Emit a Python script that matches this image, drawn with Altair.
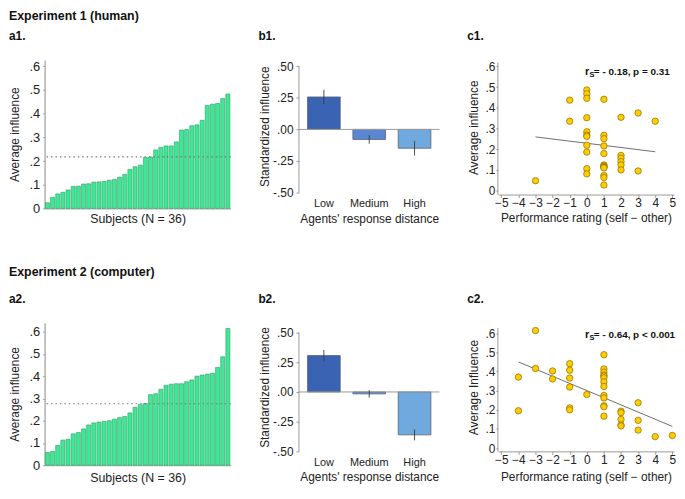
import altair as alt
import pandas as pd

# ---------------- data ----------------
a1_values = [0.024, 0.047, 0.061, 0.068, 0.078, 0.093, 0.094, 0.103, 0.104, 0.111,
             0.112, 0.114, 0.119, 0.122, 0.132, 0.144, 0.165, 0.176, 0.183, 0.215,
             0.217, 0.247, 0.258, 0.264, 0.264, 0.281, 0.331, 0.333, 0.349, 0.353,
             0.372, 0.435, 0.440, 0.443, 0.464, 0.483]
a1_mean = 0.218
a2_values = [0.057, 0.062, 0.089, 0.113, 0.116, 0.141, 0.147, 0.163, 0.181, 0.190,
             0.194, 0.197, 0.200, 0.207, 0.214, 0.219, 0.235, 0.260, 0.272, 0.277,
             0.317, 0.321, 0.341, 0.359, 0.364, 0.366, 0.366, 0.375, 0.383, 0.400,
             0.405, 0.409, 0.413, 0.439, 0.487, 0.614]
a2_mean = 0.276

b_categories = ["Low", "Medium", "High"]
b1_means = [0.257, -0.079, -0.149]
b1_errors = [0.057, 0.034, 0.058]
b2_means = [0.306, -0.016, -0.361]
b2_errors = [0.047, 0.032, 0.046]
b_colors = ["#3a63b3", "#5b86d1", "#70a9dd"]

c1_rating = [-3, -1, -1,
             0, 0, 0, 0, 0, 0, 0, 0, 0, 0, 0,
             1, 1, 1, 1, 1, 1, 1, 1, 1, 1, 1, 1, 1,
             2, 2, 2, 2, 2, 2,
             3, 3,
             4]
c1_influence = [0.048, 0.437, 0.335,
                0.486, 0.468, 0.446, 0.352, 0.284, 0.268, 0.262, 0.219, 0.186, 0.106, 0.081,
                0.441, 0.267, 0.251, 0.216, 0.179, 0.124, 0.119, 0.116, 0.112, 0.110, 0.073, 0.063, 0.027,
                0.354, 0.170, 0.156, 0.140, 0.124, 0.100,
                0.375, 0.095,
                0.335]
c2_rating = [-4, -4, -3, -3, -2, -2,
             -1, -1, -1, -1, -1, -1,
             0,
             1, 1, 1, 1, 1, 1, 1, 1, 1, 1, 1, 1, 1,
             2, 2, 2, 2, 2,
             3, 3, 3,
             4, 5]
c2_influence = [0.371, 0.195, 0.614, 0.416, 0.403, 0.361,
                0.441, 0.407, 0.366, 0.319, 0.210, 0.200,
                0.280,
                0.488, 0.413, 0.397, 0.382, 0.376, 0.367, 0.346, 0.322, 0.275, 0.262, 0.221, 0.216, 0.167,
                0.193, 0.185, 0.150, 0.120, 0.116,
                0.237, 0.145, 0.094,
                0.060, 0.066]
c1_stat = "= - 0.18, p = 0.31"
c2_stat = "= - 0.64, p < 0.001"

# ---------------- style ----------------
FONT = "Liberation Sans"
GREEN = "#3de996"
GREEN_EDGE = "#2f9c64"
AXIS_GREY = "#9a9a9a"
TXT = "#222222"

LABEL_1DP = "datum.value == 0 ? '0' : replace(format(datum.value, '.1f'), '0.', '.')"
LABEL_2DP = ("replace(replace(replace(format(datum.value, '.2f'), '0.', '.'), "
             "'\u2212', '-'), '-0', '-')")
TICKS_1DP = [0, 0.1, 0.2, 0.3, 0.4, 0.5, 0.6]
C_WIDTH = 178


def panel_title(text):
    return alt.TitleParams(text, anchor="start", font=FONT, fontSize=12, fontWeight="bold",
                           color="#111111", offset=17, frame="bounds")


def panel_a(values, mean, title, height, ymax, xtitle_y):
    df = pd.DataFrame({"subject": list(range(1, len(values) + 1)), "influence": values})
    bars = alt.Chart(df).mark_bar(fill=GREEN, stroke=GREEN_EDGE, strokeWidth=0.6).encode(
        x=alt.X("subject:O",
                scale=alt.Scale(paddingInner=0.22, paddingOuter=0.15),
                axis=alt.Axis(title="Subjects (N = 36)", labels=False, ticks=False,
                              domainColor=AXIS_GREY, titleY=xtitle_y, titleFontSize=12.5)),
        y=alt.Y("influence:Q",
                scale=alt.Scale(domain=[0, ymax], nice=False),
                axis=alt.Axis(values=TICKS_1DP, tickCount=20, labelExpr=LABEL_1DP,
                              labelOverlap=False, title="Average influence", labelFontSize=13,
                              tickSize=2, labelPadding=3, domainColor="#b0b0b0",
                              domainWidth=1.5, titleX=-23)),
    )
    mean_df = pd.DataFrame({"mean": [mean]})
    rule = alt.Chart(mean_df).mark_rule(color="#777777", strokeDash=[1.5, 3], strokeWidth=1.2).encode(
        y="mean:Q")
    return alt.layer(bars, rule).properties(width=188, height=height, title=panel_title(title))


def panel_b(means, errors, title, height, ymax, xtitle_y):
    df = pd.DataFrame({
        "level": b_categories,
        "mean": means,
        "lo": [m - e for m, e in zip(means, errors)],
        "hi": [m + e for m, e in zip(means, errors)],
    })
    base = alt.Chart(df)
    bars = base.mark_bar(stroke="#55606e", strokeWidth=0.8).encode(
        x=alt.X("level:N", sort=b_categories,
                scale=alt.Scale(paddingInner=0.28, paddingOuter=0.19),
                axis=alt.Axis(title="Agents' response distance", domain=False, ticks=False,
                              labelAngle=0, labelPadding=5, labelFontSize=11,
                              titleY=xtitle_y)),
        y=alt.Y("mean:Q",
                scale=alt.Scale(domain=[-0.5, ymax], nice=False),
                axis=alt.Axis(values=[-0.5, -0.25, 0, 0.25, 0.5], tickCount=20,
                              labelExpr=LABEL_2DP, labelOverlap=False, domain=False,
                              title="Standardized influence", labelFontSize=12,
                              tickSize=3, labelPadding=3, titleX=-28)),
        color=alt.Color("level:N", scale=alt.Scale(domain=b_categories, range=b_colors),
                        legend=None),
    )
    yline = alt.Chart(pd.DataFrame({"lo": [-0.5], "hi": [0.5]})).mark_rule(
        color=AXIS_GREY, strokeWidth=1).encode(x=alt.value(0), y="lo:Q", y2="hi:Q")
    zero = alt.Chart(pd.DataFrame({"zero": [0]})).mark_rule(color=AXIS_GREY, strokeWidth=1).encode(
        y="zero:Q")
    err = base.mark_rule(color="#3a3a3a", strokeWidth=0.9).encode(
        x=alt.X("level:N", sort=b_categories), y="lo:Q", y2="hi:Q")
    return alt.layer(bars, yline, zero, err).properties(width=142, height=height,
                                                        title=panel_title(title))


def panel_c(rating, influence, stat, ytitle, title, height, ymin, ymax, ytop, xtitle_y):
    df = pd.DataFrame({"rating": rating, "influence": influence})
    base = alt.Chart(df)
    xenc = alt.X("rating:Q", scale=alt.Scale(domain=[-5.2, 5.1], nice=False, zero=False),
                 axis=alt.Axis(values=list(range(-5, 6)), tickCount=20, format="d",
                               labelOverlap=False, labelFlush=False,
                               title="Performance rating (self \u2212 other)",
                               labelFontSize=12, tickSize=3, labelPadding=0, titleY=xtitle_y))
    yenc = alt.Y("influence:Q", scale=alt.Scale(domain=[ymin, ymax], nice=False),
                 axis=alt.Axis(values=TICKS_1DP, tickCount=20, labelExpr=LABEL_1DP,
                               labelOverlap=False, domain=False, title=ytitle,
                               labelFontSize=12, tickSize=2, labelPadding=1, titleX=-18))
    yline = alt.Chart(pd.DataFrame({"lo": [ymin], "hi": [ytop]})).mark_rule(
        color=AXIS_GREY, strokeWidth=1).encode(
        x=alt.value(0),
        y=alt.Y("lo:Q", scale=alt.Scale(domain=[ymin, ymax], nice=False)), y2="hi:Q")
    line = base.transform_regression("rating", "influence").mark_line(
        color="#6e6e6e", strokeWidth=1).encode(x=xenc, y=yenc)
    pts = base.mark_circle(size=42, color="#ffcc00", stroke="#8a6b00", strokeWidth=0.7,
                           opacity=1).encode(x=xenc, y=yenc)
    r_txt = alt.Chart(pd.DataFrame({"t": ["r"]})).mark_text(
        align="left", baseline="middle", font=FONT, fontSize=11, fontWeight="bold",
        color="#111111").encode(text="t:N", x=alt.value(88), y=alt.value(12))
    s_txt = alt.Chart(pd.DataFrame({"t": ["S"]})).mark_text(
        align="left", baseline="middle", font=FONT, fontSize=7.5, fontWeight="bold",
        color="#111111").encode(text="t:N", x=alt.value(92.5), y=alt.value(15.5))
    stat_txt = alt.Chart(pd.DataFrame({"t": [stat]})).mark_text(
        align="left", baseline="middle", font=FONT, fontSize=10, fontWeight="bold",
        color="#111111").encode(text="t:N", x=alt.value(97), y=alt.value(12))
    return alt.layer(yline, line, pts, r_txt, s_txt, stat_txt).properties(
        width=C_WIDTH, height=height, title=panel_title(title))


def header(text, offset):
    return alt.TitleParams(text, anchor="start", font=FONT, fontSize=12.5, fontWeight="bold",
                           color="#111111", offset=offset)


row1 = alt.hconcat(
    panel_a(a1_values, a1_mean, "a1.", 150, 0.627, 4.5),
    panel_b(b1_means, b1_errors, "b1.", 134, 0.55, 21),
    panel_c(c1_rating, c1_influence, c1_stat, "Average influence", "c1.", 136,
            -0.019, 0.631, 0.619, 18),
    spacing=26,
).properties(title=header("Experiment 1 (human)", 7.5))

row2 = alt.hconcat(
    panel_a(a2_values, a2_mean, "a2.", 144, 0.64, 6),
    panel_b(b2_means, b2_errors, "b2.", 130, 0.583, 20),
    panel_c(c2_rating, c2_influence, c2_stat, "Average Influence", "c2.", 130,
            -0.017, 0.655, 0.628, 20.5),
    spacing=26,
).properties(title=header("Experiment 2 (computer)", 15))

chart = alt.vconcat(row1, row2, spacing=40.5).properties(
    padding={"left": 0, "top": 0, "right": 0, "bottom": 0}
).configure(background="white").configure_view(stroke=None).configure_axis(
    labelFont=FONT, titleFont=FONT, labelColor=TXT, titleColor=TXT, titleFontWeight="normal",
    titleFontSize=12, grid=False, domainColor=AXIS_GREY, tickColor=AXIS_GREY,
)

chart.save("out.html", embed_options={"renderer": "svg", "actions": False})
